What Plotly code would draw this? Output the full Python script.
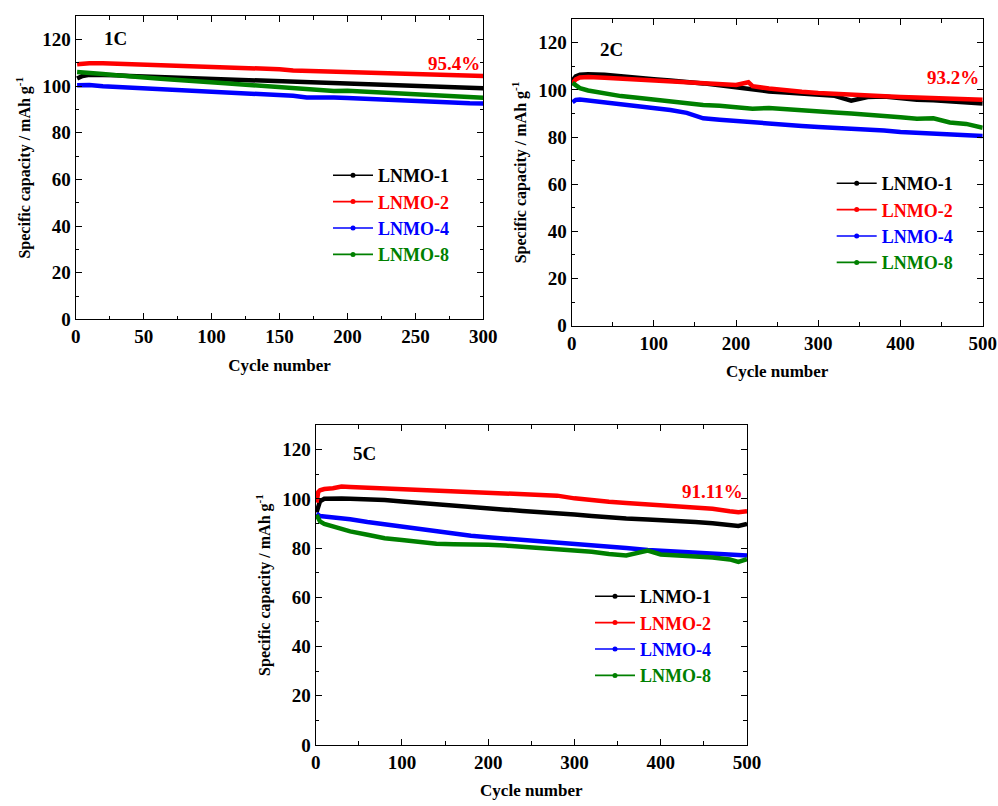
import plotly.graph_objects as go

# ---------------- data ----------------
series_names = ["LNMO-1", "LNMO-2", "LNMO-4", "LNMO-8"]
series_colors = ["#000000", "#ff0000", "#0000ff", "#008000"]

cycles_1c = [1, 5, 10, 20, 30, 40, 50, 60, 70, 80, 90, 100, 110, 120, 130, 140, 150,
             160, 170, 180, 190, 200, 210, 220, 230, 240, 250, 260, 270, 280, 290, 300]
lnmo1_1c = [103.2, 104.3, 104.8, 104.9, 104.6, 104.3, 104.1, 103.9, 103.7, 103.5, 103.3,
            103.2, 102.9, 102.7, 102.5, 102.3, 102.2, 102.1, 101.9, 101.6, 101.2, 100.9,
            101.0, 100.9, 100.6, 100.4, 100.3, 100.1, 99.8, 99.4, 99.2, 99.0]
lnmo2_1c = [109.3, 109.6, 109.8, 109.8, 109.6, 109.3, 109.2, 109.0, 108.9, 108.8, 108.7,
            108.4, 108.0, 107.8, 107.6, 107.4, 107.2, 106.7, 106.5, 106.4, 106.3, 106.1,
            105.9, 105.7, 105.4, 105.3, 105.1, 105.0, 104.8, 104.6, 104.5, 104.3]
lnmo4_1c = [100.3, 100.5, 100.4, 99.9, 99.6, 99.3, 99.0, 98.8, 98.6, 98.4, 98.0, 97.6,
            97.2, 97.0, 96.7, 96.4, 96.2, 95.8, 95.1, 95.3, 95.1, 94.9, 94.6, 94.3, 94.0,
            93.7, 93.4, 93.1, 92.9, 92.8, 92.6, 92.5]
lnmo8_1c = [106.0, 105.9, 105.7, 105.2, 104.6, 104.0, 103.6, 103.2, 102.8, 102.5, 102.0,
            101.6, 101.2, 100.8, 100.4, 100.0, 99.6, 99.2, 98.8, 98.5, 97.9, 98.0, 97.7,
            97.3, 96.8, 96.6, 96.4, 96.1, 95.8, 95.5, 95.2, 95.0]

cycles_2c = [1, 5, 10, 20, 40, 60, 80, 100, 120, 140, 160, 180, 200, 215, 220, 240, 260,
             280, 300, 320, 340, 360, 380, 400, 420, 440, 460, 480, 500]
lnmo1_2c = [104.0, 105.8, 106.5, 106.7, 106.5, 106.0, 105.4, 104.6, 104.0, 103.5, 102.8,
            102.0, 101.0, 100.4, 100.1, 99.4, 98.9, 98.5, 97.9, 97.5, 95.5, 97.0, 97.2,
            96.4, 95.9, 95.6, 95.2, 94.7, 94.3]
lnmo2_2c = [102.8, 104.5, 105.3, 105.5, 105.2, 104.8, 104.5, 104.2, 103.9, 103.6, 103.2,
            102.6, 102.1, 103.3, 101.6, 100.6, 99.8, 99.2, 98.7, 98.3, 98.0, 97.7, 97.4,
            97.0, 96.8, 96.6, 96.4, 96.2, 95.9]
lnmo4_2c = [94.8, 95.8, 96.0, 95.6, 94.8, 94.0, 93.3, 92.5, 91.5, 90.3, 88.0, 87.4, 86.8,
            86.4, 86.2, 85.8, 85.3, 84.7, 84.3, 84.0, 83.6, 83.2, 82.8, 82.2, 81.9, 81.5,
            81.1, 80.8, 80.5]
lnmo8_2c = [103.0, 101.8, 100.8, 99.8, 98.4, 97.4, 96.7, 96.0, 95.2, 94.2, 93.6, 93.3,
            92.7, 92.3, 92.0, 92.4, 91.8, 91.2, 90.8, 90.4, 90.0, 89.6, 89.0, 88.4, 87.8,
            88.0, 86.2, 85.6, 84.0]

cycles_5c = [1, 3, 5, 10, 20, 30, 40, 60, 80, 100, 120, 140, 160, 180, 200, 220, 240,
             260, 280, 300, 320, 340, 360, 385, 400, 420, 440, 460, 480, 490, 500]
lnmo1_5c = [94.5, 97.5, 99.0, 100.0, 100.2, 100.1, 100.0, 99.8, 99.5, 98.9, 98.3, 97.6,
            97.0, 96.5, 96.0, 95.6, 95.1, 94.7, 94.2, 93.6, 93.0, 92.4, 92.0, 91.6, 91.4,
            91.1, 90.6, 90.1, 89.4, 89.0, 89.8]
lnmo2_5c = [98.5, 102.8, 103.5, 104.0, 104.3, 105.0, 104.8, 104.5, 104.2, 103.8, 103.5,
            103.2, 102.9, 102.6, 102.3, 102.1, 101.8, 101.6, 101.3, 100.2, 99.3, 98.8,
            98.3, 97.7, 97.4, 97.0, 96.6, 96.0, 95.0, 94.6, 95.0]
lnmo4_5c = [94.0, 93.3, 93.0, 92.8, 92.5, 92.2, 91.7, 90.6, 89.6, 88.6, 87.8, 86.8, 85.8,
            85.0, 84.4, 83.9, 83.4, 82.8, 82.2, 81.7, 81.2, 80.6, 80.0, 79.2, 78.9, 78.5,
            78.1, 77.8, 77.4, 77.1, 77.0]
lnmo8_5c = [93.5, 91.5, 90.8, 89.8, 88.7, 87.8, 86.8, 85.4, 84.0, 83.3, 82.6, 81.8, 81.6,
            81.6, 81.3, 81.0, 80.5, 80.2, 79.6, 79.3, 78.5, 77.6, 77.0, 79.0, 77.4, 77.0,
            76.8, 76.2, 75.4, 74.4, 75.5]

panel_labels = ["1C", "2C", "5C"]
retention_labels = ["95.4%", "93.2%", "91.11%"]

panels = [
    (cycles_1c, [lnmo1_1c, lnmo2_1c, lnmo4_1c, lnmo8_1c]),
    (cycles_2c, [lnmo1_2c, lnmo2_2c, lnmo4_2c, lnmo8_2c]),
    (cycles_5c, [lnmo1_5c, lnmo2_5c, lnmo4_5c, lnmo8_5c]),
]

# ---------------- layout parameters ----------------
W, H = 998, 806
FONT = "Liberation Serif, Times New Roman, serif"
x_ranges = [[0, 300], [0, 500], [0, 500]]
x_dticks = [50, 100, 100]
x_minor = [25, 50, 50]
x_domains = [[0.0759, 0.4843], [0.5728, 0.9847], [0.3163, 0.7485]]
y_domains = [[0.6038, 0.9801], [0.5959, 0.9761], [0.0757, 0.4727]]
label_pos = [(29, 120.5), (48, 117.3), (57, 118.4)]
ret_pos = [(299, 109.8), (498, 105.3), (498, 102.8)]
# legend top-left corners in pixels (x, y)
legend_px = [(328, 157), (831.7, 165), (590, 578)]

fig = go.Figure()

for p, (cyc, ys) in enumerate(panels):
    xa = "x" if p == 0 else f"x{p+1}"
    ya = "y" if p == 0 else f"y{p+1}"
    lg = "legend" if p == 0 else f"legend{p+1}"
    for name, color, vals in zip(series_names, series_colors, ys):
        fig.add_trace(go.Scatter(
            x=cyc, y=vals, mode="lines", xaxis=xa, yaxis=ya,
            line=dict(color=color, width=4.5), showlegend=False,
            hoverinfo="skip"))
    for name, color in zip(series_names, series_colors):
        fig.add_trace(go.Scatter(
            x=[None], y=[None], mode="lines+markers", xaxis=xa, yaxis=ya,
            name=f"<span style='color:{color}'>{name}</span>",
            line=dict(color=color, width=1.6),
            marker=dict(color=color, size=5), legend=lg))

layout = dict(
    width=W, height=H, margin=dict(l=0, r=0, t=0, b=0, autoexpand=False),
    paper_bgcolor="white", plot_bgcolor="white",
    font=dict(family=FONT, size=18, color="black", weight="bold"),
    annotations=[],
)

for p in range(3):
    xk = "xaxis" if p == 0 else f"xaxis{p+1}"
    yk = "yaxis" if p == 0 else f"yaxis{p+1}"
    ya = "y" if p == 0 else f"y{p+1}"
    xa = "x" if p == 0 else f"x{p+1}"
    layout[xk] = dict(
        domain=x_domains[p], range=x_ranges[p], anchor=ya, dtick=x_dticks[p],
        tick0=0, showline=True, linecolor="black", linewidth=1.3, mirror="ticks",
        ticks="inside", ticklen=6, tickwidth=1.2, tickcolor="black", automargin=False,
        minor=dict(ticks="inside", dtick=x_minor[p], ticklen=3.5, tickcolor="black", tickwidth=1.2),
        showgrid=False, zeroline=False,
        tickfont=dict(family=FONT, size=19, weight="bold"),
        title=dict(text="Cycle number", font=dict(family=FONT, size=17, weight="bold"), standoff=12),
    )
    layout[yk] = dict(
        domain=y_domains[p], range=[0, 130], anchor=xa, dtick=20, tick0=0,
        showline=True, linecolor="black", linewidth=1.3, mirror="ticks",
        ticks="inside", ticklen=6, tickwidth=1.2, tickcolor="black", automargin=False,
        minor=dict(ticks="inside", dtick=10, ticklen=3.5, tickcolor="black", tickwidth=1.2),
        showgrid=False, zeroline=False,
        tickfont=dict(family=FONT, size=19, weight="bold"),
        title=dict(text="Specific capacity / mAh g<sup>-1</sup>",
                   font=dict(family=FONT, size=16, weight="bold"), standoff=7),
    )
    lgk = "legend" if p == 0 else f"legend{p+1}"
    layout[lgk] = dict(
        x=legend_px[p][0] / W, y=1 - legend_px[p][1] / H, xanchor="left", yanchor="top",
        bgcolor="rgba(0,0,0,0)", borderwidth=0, itemwidth=40,
        font=dict(family=FONT, size=18, weight="bold"), tracegroupgap=0,
    )
    layout["annotations"].append(dict(
        x=label_pos[p][0], y=label_pos[p][1], xref=xa, yref=ya, text=panel_labels[p],
        showarrow=False, font=dict(family=FONT, size=19, weight="bold", color="black")))
    layout["annotations"].append(dict(
        x=ret_pos[p][0], y=ret_pos[p][1], xref=xa, yref=ya, text=retention_labels[p],
        xanchor="right", showarrow=False,
        font=dict(family=FONT, size=19, weight="bold", color="#ff0000")))

fig.update_layout(**layout)
fig.write_html("out.html", config={"displayModeBar": False},
               post_script="document.body.style.margin='0';document.body.style.overflow='hidden';")
